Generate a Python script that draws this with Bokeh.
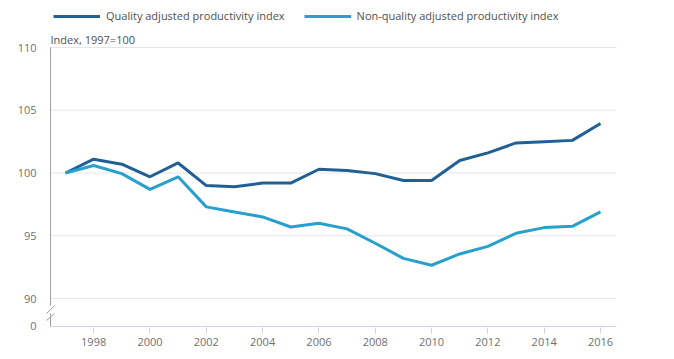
from bokeh.plotting import figure
from bokeh.models import ColumnDataSource, Legend, LegendItem, FixedTicker, Range1d, Label
from bokeh.embed import file_html
from bokeh.resources import INLINE

years = list(range(1997, 2017))
quality = [100.0, 101.1, 100.7, 99.7, 100.8, 99.0, 98.9, 99.2, 99.2, 100.3,
           100.2, 99.95, 99.4, 99.4, 101.0, 101.6, 102.4, 102.5, 102.6, 103.95]
non_quality = [100.0, 100.6, 99.95, 98.7, 99.7, 97.3, 96.9, 96.5, 95.7, 96.0,
               95.55, 94.4, 93.2, 92.65, 93.55, 94.15, 95.2, 95.65, 95.75, 96.9]
series_names = ["Quality adjusted productivity index", "Non-quality adjusted productivity index"]
x_ticks = list(range(1998, 2017, 2))
y_ticks = [90, 95, 100, 105, 110]
BREAK_BASE = 87.77  # plotted position of the broken-axis "0"

FONT = "Open Sans"
C1 = "#206095"
C2 = "#27a0cc"
AXIS_GREY = "#a0a0a0"

src = ColumnDataSource(dict(year=years, q=quality, nq=non_quality))

X0, X1 = 1996.112, 2016.568
AXIS_X = 1996.467
Y_BOTTOM = BREAK_BASE - 0.08
Y_TOP = 113.745

p = figure(width=674, height=359, output_backend="svg", toolbar_location=None,
           x_range=Range1d(X0, X1), y_range=Range1d(Y_BOTTOM, Y_TOP),
           min_border_left=40, min_border_right=58, min_border_top=0, min_border_bottom=32)
p.outline_line_color = None
p.background_fill_color = "white"

# gridlines and axis lines (drawn from the axis position rightwards)
p.segment(x0=[AXIS_X] * len(y_ticks), y0=y_ticks, x1=[X1] * len(y_ticks), y1=y_ticks,
          line_color="#e6e6e6", line_width=1)
p.segment(x0=[AXIS_X], y0=[BREAK_BASE], x1=[X1], y1=[BREAK_BASE], line_color="#d0d4e0", line_width=1)
# y axis line with break
p.segment(x0=[AXIS_X, AXIS_X], y0=[89.44, BREAK_BASE], x1=[AXIS_X, AXIS_X], y1=[110, 88.8],
          line_color=AXIS_GREY, line_width=1)
dx = 0.142
p.segment(x0=[AXIS_X - dx, AXIS_X - dx], y0=[88.8, 88.25], x1=[AXIS_X + dx, AXIS_X + dx],
          y1=[89.44, 88.8], line_color=AXIS_GREY, line_width=1)

r1 = p.line("year", "q", source=src, line_color=C1, line_width=3)
r2 = p.line("year", "nq", source=src, line_color=C2, line_width=3)

# axes
p.xaxis.ticker = FixedTicker(ticks=x_ticks)
p.yaxis.ticker = FixedTicker(ticks=[BREAK_BASE] + y_ticks)
p.yaxis.major_label_overrides = {BREAK_BASE: "0"}
for ax in (p.xaxis[0], p.yaxis[0]):
    ax.major_label_text_font = FONT
    ax.major_label_text_font_size = "11px"
    ax.major_label_text_color = "#707070"
    ax.minor_tick_line_color = None
    ax.axis_line_color = None
p.xaxis.major_tick_line_color = "#d0d4e0"
p.xaxis.major_tick_out = 6
p.xaxis.major_tick_in = 0
p.xaxis.major_label_standoff = 4
p.yaxis.major_tick_line_color = None
p.yaxis.major_tick_out = 0
p.yaxis.major_tick_in = 0
p.yaxis.major_label_standoff = 4
p.xgrid.grid_line_color = None
p.ygrid.grid_line_color = None

p.add_layout(Label(x=AXIS_X, y=110.64, text="Index, 1997=100", text_baseline="middle",
                   text_font=FONT, text_font_size="11px", text_color="#505050"))

legend = Legend(items=[LegendItem(label=series_names[0], renderers=[r1]),
                       LegendItem(label=series_names[1], renderers=[r2])],
                orientation="horizontal", location=(13, 304),
                label_text_font=FONT, label_text_font_size="11px", label_text_color="#505050",
                glyph_width=47, glyph_height=12, label_height=12, padding=0, margin=0,
                spacing=19, label_standoff=6, background_fill_alpha=0, border_line_color=None)
p.add_layout(legend, "center")

open("out.html", "w").write(file_html(p, INLINE))
